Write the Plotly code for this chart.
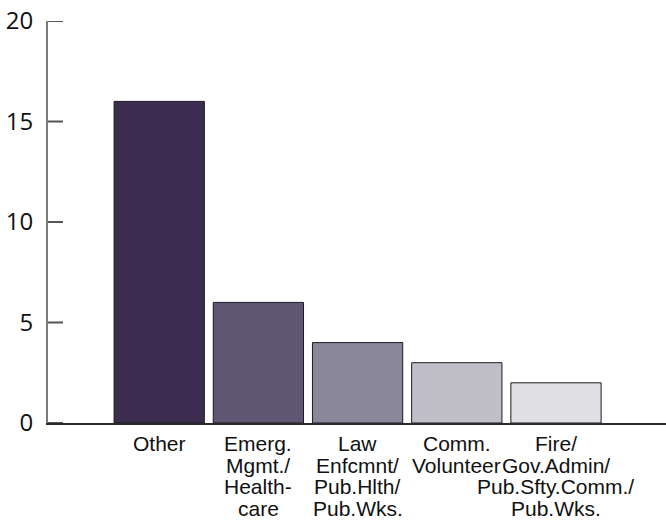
import plotly.graph_objects as go

# data
categories = ["Other", "Emerg. Mgmt./Healthcare", "Law Enfcmnt/Pub.Hlth/Pub.Wks.",
              "Comm. Volunteer", "Fire/Gov.Admin/Pub.Sfty.Comm./Pub.Wks."]
label_lines = [
    ["Other"],
    ["Emerg.", "Mgmt./", "Health-", "care"],
    ["Law", "Enfcmnt/", "Pub.Hlth/", "Pub.Wks."],
    ["Comm.", "Volunteer"],
    ["Fire/", "Gov.Admin/", "Pub.Sfty.Comm./", "Pub.Wks."],
]
counts = [16, 6, 4, 3, 2]
bar_colors = ["#3b2c50", "#5e5673", "#8a8799", "#c0bec6", "#e0e0e3"]
y_ticks = [0, 5, 10, 15, 20]

fig = go.Figure(go.Bar(
    x=categories,
    y=counts,
    marker=dict(color=bar_colors, line=dict(color="#1e1a24", width=1)),
))

# multi-line category labels, tighter line spacing than plotly's tick labels
annotations = []
for cat, lines in zip(categories, label_lines):
    for i, line in enumerate(lines):
        annotations.append(dict(
            x=cat, xref="x", y=0, yref="paper",
            yanchor="top", xanchor="center",
            yshift=-7 - i * 21.5,
            text=line, showarrow=False,
            font=dict(family="Liberation Sans, Arial", size=21, color="#111"),
        ))

# short tick marks pointing into the plot from the y axis
tick_shapes = [
    dict(type="line", xref="paper", xsizemode="pixel", xanchor=0,
         x0=0, x1=15, yref="y", y0=v, y1=v,
         line=dict(color="#555555", width=2))
    for v in y_ticks
]

fig.update_layout(
    width=666, height=520,
    margin=dict(l=48, r=0, t=21, b=97),
    paper_bgcolor="white", plot_bgcolor="white",
    showlegend=False,
    bargap=0.09,
    annotations=annotations,
    shapes=tick_shapes,
    xaxis=dict(
        range=[-1.121, 5.109], automargin=False,
        showticklabels=False, ticks="",
        showline=True, linecolor="#2a2a2a", linewidth=2,
        showgrid=False, zeroline=False,
    ),
    yaxis=dict(
        range=[0, 20], tickvals=y_ticks, automargin=False,
        ticks="", showline=True, linecolor="#7a7a7a", linewidth=2,
        showgrid=False, zeroline=False,
        ticklabelstandoff=8,
        tickfont=dict(family="Open Sans", size=24, color="#111"),
    ),
)

# drop the default 8px page margin so the figure fills the window
fig.write_html("out.html", config={"displayModeBar": False},
               post_script="document.body.style.margin='0';")
